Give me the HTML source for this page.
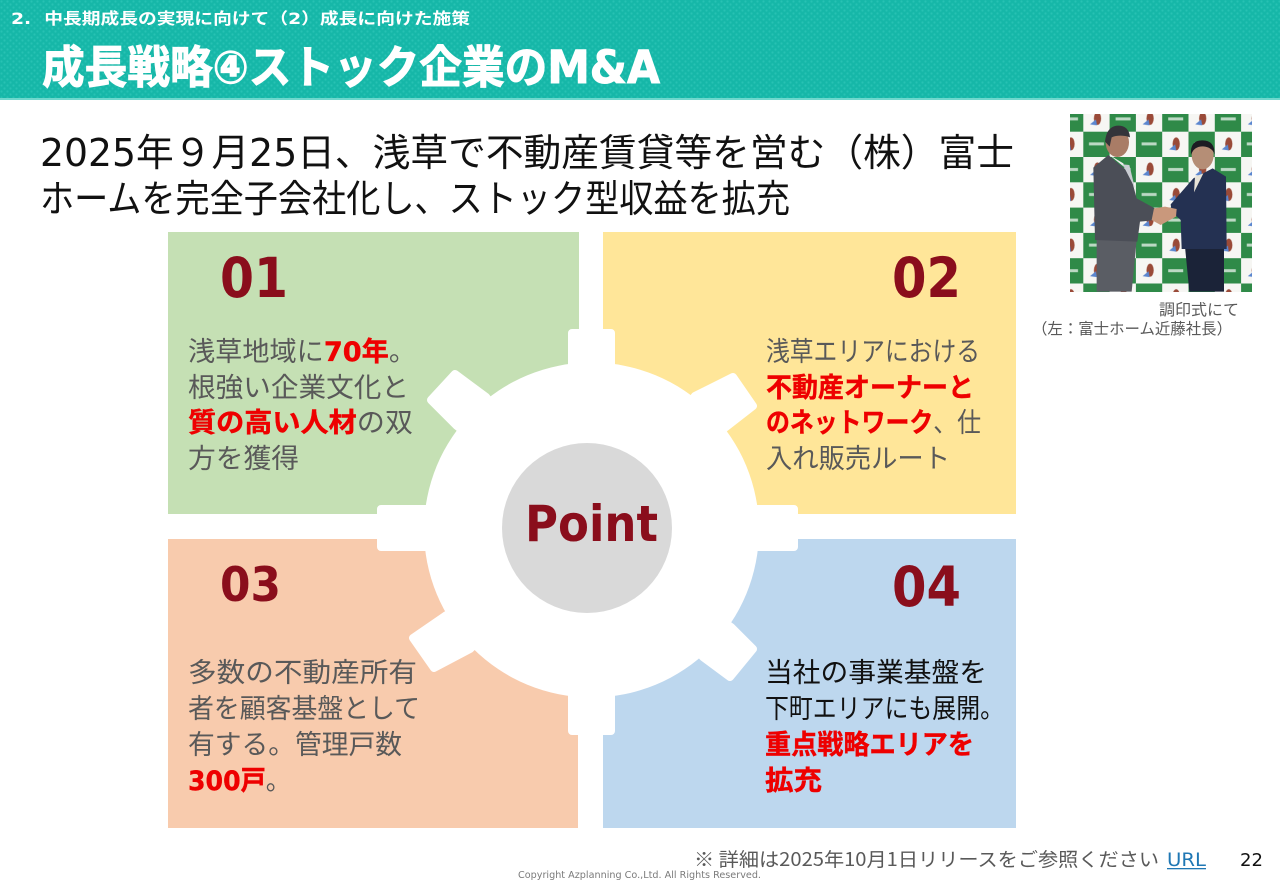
<!DOCTYPE html>
<html lang="ja">
<head>
<meta charset="utf-8">
<title>成長戦略④ストック企業のM&amp;A</title>
<style>
html,body{margin:0;padding:0;background:#fff;width:1280px;height:886px;overflow:hidden}
svg{display:block}
text{font-family:"DejaVu Sans","Noto Sans CJK JP",sans-serif}
.jp{font-family:"Noto Sans CJK JP","DejaVu Sans",sans-serif}
.b{font-size:27px;fill:#595959;font-weight:400}
.r{fill:#ee0000;font-weight:700;stroke:#ee0000;stroke-width:.4px}
.d{font-family:"DejaVu Sans",sans-serif}
.n{fill:#8a0e1c;font-weight:700}
</style>
</head>
<body>
<svg width="1280" height="886" viewBox="0 0 1280 886" xmlns="http://www.w3.org/2000/svg">
<defs>
<pattern id="dots" x="0" y="0" width="6" height="6" patternUnits="userSpaceOnUse">
  <rect width="6" height="6" fill="#16b7a8"/>
  <circle cx="1.5" cy="1.5" r="1.1" fill="#27c2b3"/>
  <circle cx="4.5" cy="4.5" r="1.1" fill="#27c2b3"/>
</pattern>
<pattern id="chk" x="1057" y="106.4" width="52.6" height="50.6" patternUnits="userSpaceOnUse">
  <rect width="52.6" height="50.6" fill="#f6f6f3"/>
  <rect x="0" y="0" width="26.3" height="25.3" fill="#2f8a48"/>
  <rect x="26.3" y="25.3" width="26.3" height="25.3" fill="#2f8a48"/>
  <rect x="6" y="11" width="15" height="3" fill="#bcd9c4"/>
  <rect x="32" y="36" width="15" height="3" fill="#bcd9c4"/>
  <ellipse cx="40.5" cy="12" rx="3.6" ry="6.5" fill="#9a4a38"/>
  <path d="M33 18l6-5 1 6z" fill="#5a86cf"/>
  <ellipse cx="14" cy="37.5" rx="3.6" ry="6.5" fill="#9a4a38"/>
  <path d="M7 43l6-5 1 6z" fill="#5a86cf"/>
</pattern>
<clipPath id="ph"><rect x="1070" y="114" width="182" height="178"/></clipPath>
</defs>

<!-- header -->
<rect x="0" y="0" width="1280" height="98" fill="url(#dots)"/>
<rect x="0" y="98" width="1280" height="2" fill="#6fd8cd"/>
<text x="11" y="24" font-size="16" font-weight="700" fill="#fff" textLength="459" lengthAdjust="spacingAndGlyphs">2.&#160;&#160;中長期成長の実現に向けて（2）成長に向けた施策</text>
<text x="42" y="83" font-size="45" font-weight="700" fill="#fff" stroke="#fff" stroke-width="1" textLength="618" lengthAdjust="spacingAndGlyphs">成長戦略④ストック企業のM&amp;A</text>

<!-- heading -->
<text x="40" y="166" font-size="38" fill="#111" textLength="974" lengthAdjust="spacingAndGlyphs">2025年９月25日、浅草で不動産賃貸等を営む（株）富士</text>
<text x="40" y="212" font-size="38" fill="#111" textLength="750" lengthAdjust="spacingAndGlyphs">ホームを完全子会社化し、ストック型収益を拡充</text>

<!-- panels -->
<rect x="168" y="232" width="411" height="282" fill="#c5e0b4"/>
<rect x="603" y="232" width="413" height="282" fill="#ffe699"/>
<rect x="168" y="539" width="410" height="289" fill="#f8cbad"/>
<rect x="603" y="539" width="413" height="289" fill="#bdd7ee"/>

<!-- gear -->
<g fill="#fff" stroke="#fff" stroke-width="8" stroke-linejoin="round">
  <rect x="572" y="333" width="39" height="398"/>
  <rect x="381" y="509" width="413" height="38"/>
  <polygon points="455,374 486,397 591,530 457,426 431,400"/>
  <polygon points="733,377 753,406 726,427 591,530 695,396"/>
  <polygon points="413,638 434,668 470,649 591,530 445,616"/>
  <polygon points="753,649 730,677 703,657 591,530 731,627"/>
</g>
<rect x="579" y="228" width="24" height="110" fill="#fff"/>
<rect x="579" y="728" width="24" height="104" fill="#fff"/>
<rect x="160" y="514" width="225" height="25" fill="#fff"/>
<rect x="790" y="514" width="230" height="25" fill="#fff"/>
<circle cx="591.5" cy="530" r="167.5" fill="#fff"/>
<circle cx="587" cy="528" r="85" fill="#d9d9d9"/>
<text x="525" y="541" font-size="50" class="n" textLength="133" lengthAdjust="spacingAndGlyphs">Point</text>

<!-- numbers -->
<text x="220" y="297" font-size="55" class="n" textLength="68" lengthAdjust="spacingAndGlyphs">01</text>
<text x="892" y="297" font-size="55" class="n" textLength="69" lengthAdjust="spacingAndGlyphs">02</text>
<text x="220" y="601" font-size="47" class="n" textLength="61" lengthAdjust="spacingAndGlyphs">03</text>
<text x="892" y="606" font-size="55" class="n" textLength="69" lengthAdjust="spacingAndGlyphs">04</text>

<!-- panel 1 -->
<text class="b jp" x="188" y="361" textLength="228" lengthAdjust="spacingAndGlyphs">浅草地域に<tspan class="r d">70</tspan><tspan class="r">年</tspan>。</text>
<text class="b jp" x="188" y="397" textLength="221" lengthAdjust="spacingAndGlyphs">根強い企業文化と</text>
<text class="b jp" x="188" y="432" textLength="225" lengthAdjust="spacingAndGlyphs"><tspan class="r">質の高い人材</tspan>の双</text>
<text class="b jp" x="188" y="468" textLength="111" lengthAdjust="spacingAndGlyphs">方を獲得</text>

<!-- panel 2 -->
<text class="b jp" x="766" y="361" textLength="214" lengthAdjust="spacingAndGlyphs">浅草エリアにおける</text>
<text class="b jp" x="766" y="397" textLength="208" lengthAdjust="spacingAndGlyphs"><tspan class="r">不動産オーナーと</tspan></text>
<text class="b jp" x="766" y="432" textLength="215" lengthAdjust="spacingAndGlyphs"><tspan class="r">のネットワーク</tspan>、仕</text>
<text class="b jp" x="766" y="468" textLength="184" lengthAdjust="spacingAndGlyphs">入れ販売ルート</text>

<!-- panel 3 -->
<text class="b jp" x="188" y="682" textLength="229" lengthAdjust="spacingAndGlyphs">多数の不動産所有</text>
<text class="b jp" x="188" y="718" textLength="232" lengthAdjust="spacingAndGlyphs">者を顧客基盤として</text>
<text class="b jp" x="188" y="754" textLength="214" lengthAdjust="spacingAndGlyphs">有する。管理戸数</text>
<text class="b jp" x="188" y="790" textLength="103" lengthAdjust="spacingAndGlyphs"><tspan class="r d">300</tspan><tspan class="r">戸</tspan>。</text>

<!-- panel 4 -->
<text class="b jp" x="765" y="682" style="fill:#111" textLength="222" lengthAdjust="spacingAndGlyphs">当社の事業基盤を</text>
<text class="b jp" x="765" y="718" style="fill:#111" textLength="239" lengthAdjust="spacingAndGlyphs">下町エリアにも展開。</text>
<text class="b jp" x="765" y="754" textLength="209" lengthAdjust="spacingAndGlyphs"><tspan class="r">重点戦略エリアを</tspan></text>
<text class="b jp" x="765" y="790" textLength="57" lengthAdjust="spacingAndGlyphs"><tspan class="r">拡充</tspan></text>

<!-- photo -->
<g clip-path="url(#ph)">
  <rect x="1070" y="114" width="182" height="178" fill="url(#chk)"/>
  <g transform="translate(1030 105) scale(.33333)">
    <polygon points="200,405 320,405 305,560 200,560" fill="#5a5d64"/>
    <polygon points="465,425 582,425 582,560 478,560" fill="#1b2338"/>
    <ellipse cx="262" cy="112" rx="35" ry="44" fill="#a97c66"/>
    <path d="M225 110q5-48 40-48q32 0 35 35q-30-10-55 0l-6 28z" fill="#34343a"/>
    <ellipse cx="518" cy="150" rx="33" ry="43" fill="#b58e76"/>
    <path d="M483 150q-4-45 35-44q36 0 36 42q-8-22-35-24q-28 0-36 26z" fill="#1c1c22"/>
    <polygon points="238,150 280,175 315,255 300,200" fill="#eee"/>
    <polygon points="235,150 190,188 195,405 322,410 330,350 375,345 378,312 320,280 300,205" fill="#4b4e57"/>
    <polygon points="278,178 298,180 315,250" fill="#c9ccd2"/>
    <polygon points="490,220 548,190 588,215 590,432 455,432 452,345 425,320 422,298" fill="#243152"/>
    <polygon points="495,215 520,205 492,262" fill="#e8e4d8"/>
    <polygon points="372,310 405,305 440,312 438,335 392,360 365,345" fill="#c9987c"/>
  </g>
</g>

<!-- caption -->
<text class="jp" x="1159" y="315" font-size="15.5" fill="#595959" textLength="80" lengthAdjust="spacingAndGlyphs">調印式にて</text>
<text class="jp" x="1032" y="334" font-size="15.5" fill="#595959" textLength="200" lengthAdjust="spacingAndGlyphs">（左：富士ホーム近藤社長）</text>

<!-- footer -->
<text class="jp" x="694" y="866" font-size="19" fill="#595959" textLength="465" lengthAdjust="spacingAndGlyphs">※ 詳細は2025年10月1日リリースをご参照ください</text>
<text x="1167" y="866" font-size="19" fill="#1f77b4" textLength="39" lengthAdjust="spacingAndGlyphs">URL</text>
<rect x="1167" y="868" width="39" height="1.3" fill="#1f77b4"/>
<text x="1240" y="866" font-size="18" fill="#111" textLength="23" lengthAdjust="spacingAndGlyphs">22</text>
<text x="518" y="878" font-size="9.5" fill="#7a7a7a" textLength="243" lengthAdjust="spacingAndGlyphs">Copyright Azplanning Co.,Ltd. All Rights Reserved.</text>
</svg>
</body>
</html>
